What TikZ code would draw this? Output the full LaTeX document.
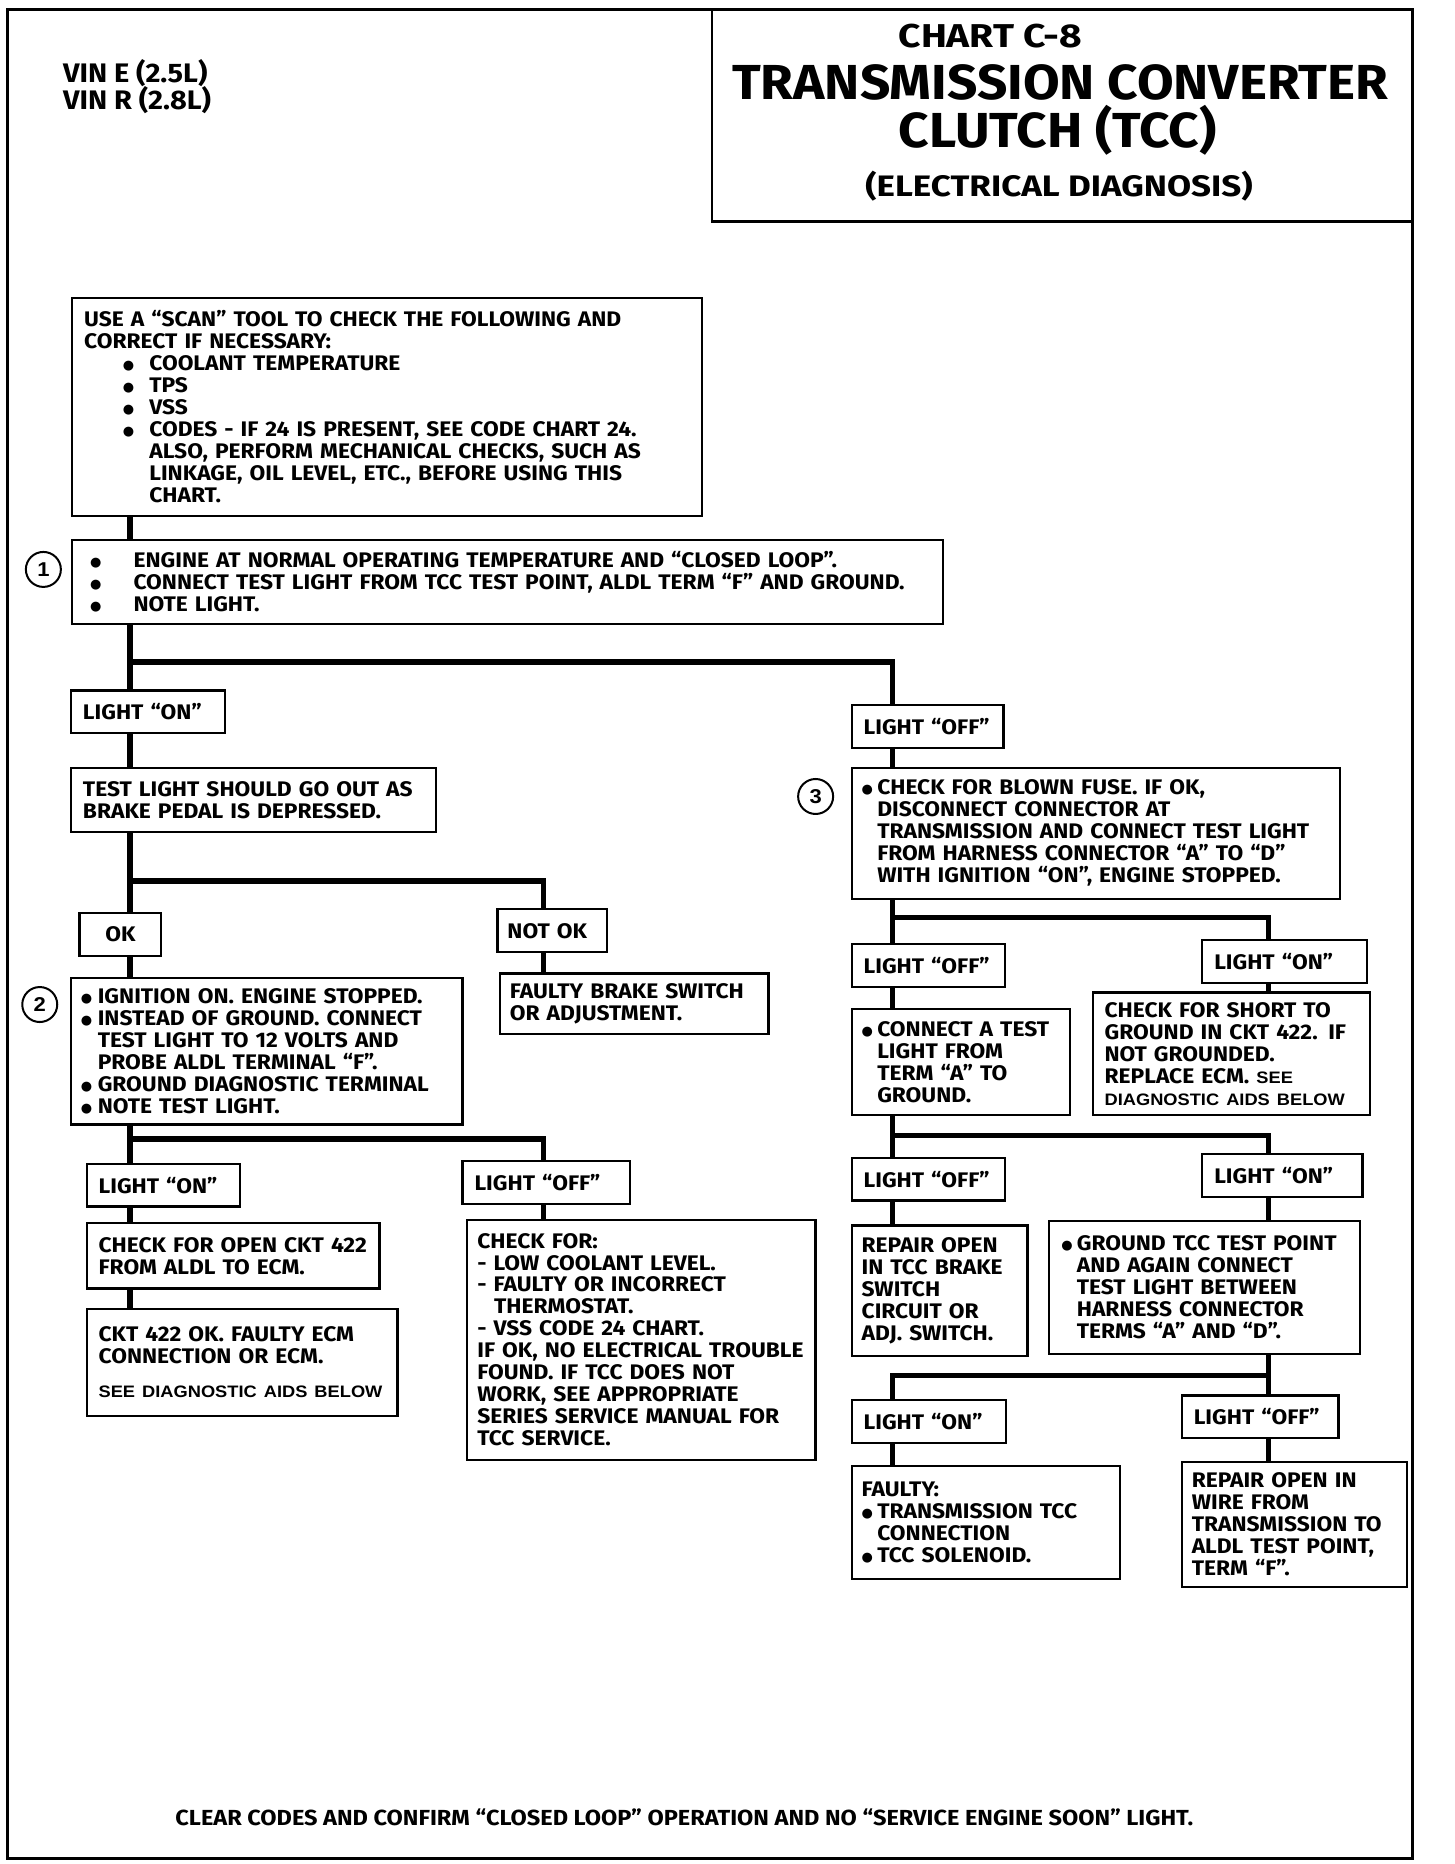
\documentclass[tikz,border=0pt]{standalone}
\usepackage{fontspec}
\setmainfont{Fira Sans}
\newfontfamily\gmfont{Fira Sans}[FakeStretch=1.08]
\newfontfamily\gmwide{Fira Sans}[FakeStretch=1.18]
\newfontfamily\aidsfont{Liberation Sans}[FakeStretch=1.1]
\newfontfamily\dotfont{DejaVu Sans}
\newcommand\chartsize{\gmfont\bfseries\fontsize{10.55}{11}\selectfont}
\newcommand\aidsize{\aidsfont\fontsize{8.3}{11}\selectfont}
\newcommand\chartbul[1]{\makebox[#1][l]{\raisebox{0.6pt}{\dotfont\fontsize{6.5}{7}\selectfont ●}}}
\newcommand\chartind[1]{\hspace*{#1}}
\tikzstyle{link}=[line width=2.7pt]
\tikzstyle{marker}=[draw,circle,line width=1pt,minimum size=17.5pt,inner sep=0pt,font=\aidsfont\bfseries\fontsize{10}{10}\selectfont]
\tikzset{stepbox/.style n args={3}{draw,line width=1.1pt,anchor=north west,inner ysep=0pt,inner xsep=#3,
  minimum width=#1*0.6025pt,minimum height=#2*0.5945pt,text width=#1*0.6025pt-2*#3,align=left,font=\chartsize,
  execute at begin node={\rightskip=0pt plus 1fil minus 100pt}}}
\begin{document}
\begin{tikzpicture}[x=0.6025pt,y=-0.5945pt]
\useasboundingbox (0,0) rectangle (1207,1568);
\draw[line width=1.5pt] (6,8) rectangle (1172,1563);
\draw[line width=1.4pt] (591,8) rectangle (1172,186);
\node[anchor=base,font=\gmwide\bfseries\fontsize{16.5}{18}\selectfont] (chartno) at (822,40) {CHART C-8};
\node[anchor=base,font=\gmfont\bfseries\fontsize{24.6}{28}\selectfont] (title) at (880,84) {TRANSMISSION CONVERTER};
\node[anchor=base,font=\gmfont\bfseries\fontsize{24.6}{28}\selectfont] (title2) at (878,124) {CLUTCH (TCC)};
\node[anchor=base,font=\gmwide\bfseries\fontsize{14.8}{17}\selectfont] (subtitle) at (879,165) {(ELECTRICAL DIAGNOSIS)};
\node[anchor=base west,inner sep=0pt,font=\gmfont\bfseries\fontsize{13.4}{16}\selectfont] (vine) at (52,69) {VIN E (2.5L)};
\node[anchor=base west,inner sep=0pt,font=\gmfont\bfseries\fontsize{13.4}{16}\selectfont] (vinr) at (52,92) {VIN R (2.8L)};

\coordinate (colA) at (108,0);
\coordinate (colB) at (451,0);
\coordinate (colC) at (741,0);
\coordinate (colD) at (1053,0);

\node[stepbox={523}{183}{6pt}] (scan) at (59,250) {USE A “SCAN” TOOL TO CHECK THE FOLLOWING AND\\
CORRECT IF NECESSARY:\\
\chartind{19.3pt}\chartbul{13.3pt}COOLANT TEMPERATURE\\
\chartind{19.3pt}\chartbul{13.3pt}TPS\\
\chartind{19.3pt}\chartbul{13.3pt}VSS\\
\chartind{19.3pt}\chartbul{13.3pt}CODES - IF 24 IS PRESENT, SEE CODE CHART 24.\\
\chartind{32.6pt}ALSO, PERFORM MECHANICAL CHECKS, SUCH AS\\
\chartind{32.6pt}LINKAGE, OIL LEVEL, ETC., BEFORE USING THIS\\
\chartind{32.6pt}CHART.};
\node[stepbox={723}{71}{9pt}] (step1) at (59,453) {\chartbul{21.7pt}ENGINE AT NORMAL OPERATING TEMPERATURE AND “CLOSED LOOP”.\\
\chartbul{21.7pt}CONNECT TEST LIGHT FROM TCC TEST POINT, ALDL TERM “F” AND GROUND.\\
\chartbul{21.7pt}NOTE LIGHT.};
\node[marker] (m1) at (36,479) {1};

\node[stepbox={128}{36}{6pt}] (lon) at (58,580) {LIGHT “ON”};
\node[stepbox={303}{54}{6pt}] (pedal) at (58,645) {TEST LIGHT SHOULD GO OUT AS\\ BRAKE PEDAL IS DEPRESSED.};
\node[stepbox={68}{36}{3pt}] (ok) at (65,767) {\makebox[\linewidth]{OK}};
\node[stepbox={91}{36}{5pt}] (notok) at (412,764) {NOT OK};
\node[stepbox={223}{51}{5pt}] (brake) at (414,818) {FAULTY BRAKE SWITCH\\ OR ADJUSTMENT.};
\node[stepbox={325}{123}{5pt}] (step2) at (58,822) {\chartbul{8.4pt}IGNITION ON. ENGINE STOPPED.\\
\chartbul{8.4pt}INSTEAD OF GROUND. CONNECT\\
\chartind{8.4pt}TEST LIGHT TO 12 VOLTS AND\\
\chartind{8.4pt}PROBE ALDL TERMINAL “F”.\\
\chartbul{8.4pt}GROUND DIAGNOSTIC TERMINAL\\
\chartbul{8.4pt}NOTE TEST LIGHT.};
\node[marker] (m2) at (33,845) {2};
\node[stepbox={127}{36}{6pt}] (lon2) at (71,978) {LIGHT “ON”};
\node[stepbox={139}{36}{6pt}] (loff2) at (383,976) {LIGHT “OFF”};
\node[stepbox={243}{55}{6pt}] (open422) at (71,1028) {CHECK FOR OPEN CKT 422\\ FROM ALDL TO ECM.};
\node[stepbox={258}{90}{6pt}] (ok422) at (71,1100) {CKT 422 OK. FAULTY ECM\\ CONNECTION OR ECM.\\[6pt] {\aidsize SEE DIAGNOSTIC AIDS BELOW}};
\node[stepbox={289}{202}{5pt}] (checkfor) at (387,1025) {CHECK FOR:\\
- LOW COOLANT LEVEL.\\
- FAULTY OR INCORRECT\\
\chartind{8.4pt}THERMOSTAT.\\
- VSS CODE 24 CHART.\\
IF OK, NO ELECTRICAL TROUBLE\\
FOUND. IF TCC DOES NOT\\
WORK, SEE APPROPRIATE\\
SERIES SERVICE MANUAL FOR\\
TCC SERVICE.};

\node[stepbox={126}{36}{6pt}] (roff1) at (706,592) {LIGHT “OFF”};
\node[stepbox={405}{110}{5pt}] (step3) at (706,645) {\chartbul{7.8pt}CHECK FOR BLOWN FUSE. IF OK,\\
\chartind{7.8pt}DISCONNECT CONNECTOR AT\\
\chartind{7.8pt}TRANSMISSION AND CONNECT TEST LIGHT\\
\chartind{7.8pt}FROM HARNESS CONNECTOR “A” TO “D”\\
\chartind{7.8pt}WITH IGNITION “ON”, ENGINE STOPPED.};
\node[marker] (m3) at (677,670) {3};
\node[stepbox={127}{36}{6pt}] (roff2) at (706,793) {LIGHT “OFF”};
\node[stepbox={137}{36}{6pt}] (ron2) at (997,790) {LIGHT “ON”};
\node[stepbox={181}{89}{5pt}] (conna) at (706,848) {\chartbul{7.8pt}CONNECT A TEST\\
\chartind{7.8pt}LIGHT FROM\\
\chartind{7.8pt}TERM “A” TO\\
\chartind{7.8pt}GROUND.};
\node[stepbox={230}{103}{6pt}] (short) at (906,834) {CHECK FOR SHORT TO\\
GROUND IN CKT 422. IF\\
NOT GROUNDED.\\
REPLACE ECM. {\aidsize SEE}\\
{\aidsize DIAGNOSTIC AIDS BELOW}};
\node[stepbox={127}{36}{6pt}] (roff3) at (706,973) {LIGHT “OFF”};
\node[stepbox={133}{36}{6pt}] (ron3) at (997,970) {LIGHT “ON”};
\node[stepbox={146}{110}{5pt}] (repbrake) at (706,1030) {REPAIR OPEN\\ IN TCC BRAKE\\ SWITCH\\ CIRCUIT OR\\ ADJ. SWITCH.};
\node[stepbox={258}{112}{6pt}] (groundtcc) at (870,1026) {\chartbul{7.8pt}GROUND TCC TEST POINT\\
\chartind{7.8pt}AND AGAIN CONNECT\\
\chartind{7.8pt}TEST LIGHT BETWEEN\\
\chartind{7.8pt}HARNESS CONNECTOR\\
\chartind{7.8pt}TERMS “A” AND “D”.};
\node[stepbox={128}{36}{6pt}] (ron4) at (706,1177) {LIGHT “ON”};
\node[stepbox={130}{36}{6pt}] (roff4) at (980,1173) {LIGHT “OFF”};
\node[stepbox={223}{95}{5pt}] (faulty) at (706,1232) {FAULTY:\\
\chartbul{7.8pt}TRANSMISSION TCC\\
\chartind{7.8pt}CONNECTION\\
\chartbul{7.8pt}TCC SOLENOID.};
\node[stepbox={187}{105}{5pt}] (repwire) at (980,1229) {REPAIR OPEN IN\\ WIRE FROM\\ TRANSMISSION TO\\ ALDL TEST POINT,\\ TERM “F”.};

\node[anchor=base,font=\gmfont\bfseries\fontsize{10.9}{12}\selectfont] (clear) at (568,1536) {CLEAR CODES AND CONFIRM “CLOSED LOOP” OPERATION AND NO “SERVICE ENGINE SOON” LIGHT.};

\coordinate (fork1) at (108,557);
\coordinate (fork2) at (108,741);
\coordinate (fork3) at (108,958);
\coordinate (fork4) at (741,772);
\coordinate (fork5) at (741,955);
\coordinate (fork6) at (1053,1157);

\draw[link] (scan.south -| colA) -- (step1.north -| colA);
\draw[link] (step1.south -| colA) -- (lon.north -| colA);
\draw[link] (fork1) -| (roff1.north -| colC);
\draw[link] (lon.south -| colA) -- (pedal.north -| colA);
\draw[link] (pedal.south -| colA) -- (ok.north -| colA);
\draw[link] (fork2) -| (notok.north -| colB);
\draw[link] (notok.south -| colB) -- (brake.north -| colB);
\draw[link] (ok.south -| colA) -- (step2.north -| colA);
\draw[link] (step2.south -| colA) -- (lon2.north -| colA);
\draw[link] (fork3) -| (loff2.north -| colB);
\draw[link] (lon2.south -| colA) -- (open422.north -| colA);
\draw[link] (open422.south -| colA) -- (ok422.north -| colA);
\draw[link] (loff2.south -| colB) -- (checkfor.north -| colB);
\draw[link] (roff1.south -| colC) -- (step3.north -| colC);
\draw[link] (step3.south -| colC) -- (roff2.north -| colC);
\draw[link] (fork4) -| (ron2.north -| colD);
\draw[link] (roff2.south -| colC) -- (conna.north -| colC);
\draw[link] (ron2.south -| colD) -- (short.north -| colD);
\draw[link] (conna.south -| colC) -- (roff3.north -| colC);
\draw[link] (fork5) -| (ron3.north -| colD);
\draw[link] (roff3.south -| colC) -- (repbrake.north -| colC);
\draw[link] (ron3.south -| colD) -- (groundtcc.north -| colD);
\draw[link] (groundtcc.south -| colD) -- (roff4.north -| colD);
\draw[link] (fork6) -| (ron4.north -| colC);
\draw[link] (ron4.south -| colC) -- (faulty.north -| colC);
\draw[link] (roff4.south -| colD) -- (repwire.north -| colD);
\end{tikzpicture}
\end{document}
